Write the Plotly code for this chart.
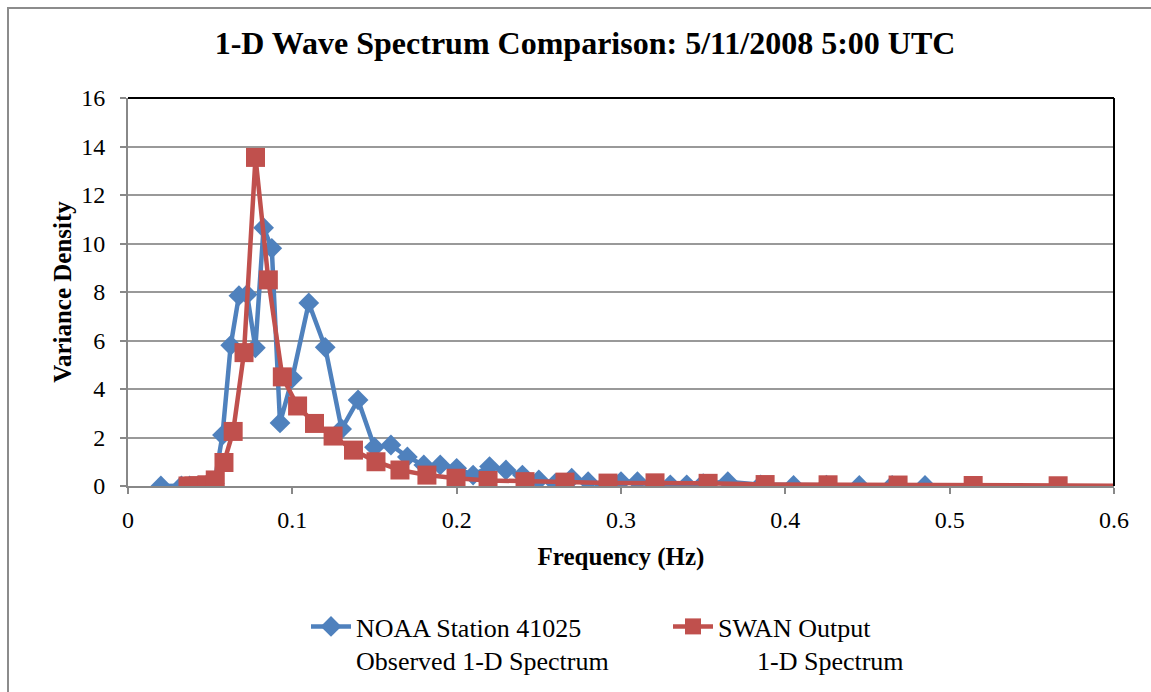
import plotly.graph_objects as go

# NOAA Station 41025 observed spectrum
noaa_freq = [0.02, 0.0325, 0.0375, 0.0425, 0.0475, 0.0525, 0.0575, 0.0625, 0.0675, 0.0725,
             0.0775, 0.0825, 0.0875, 0.0925, 0.1, 0.11, 0.12, 0.13, 0.14, 0.15,
             0.16, 0.17, 0.18, 0.19, 0.2, 0.21, 0.22, 0.23, 0.24, 0.25,
             0.26, 0.27, 0.28, 0.29, 0.3, 0.31, 0.32, 0.33, 0.34, 0.35,
             0.365, 0.385, 0.405, 0.425, 0.445, 0.465, 0.485]
noaa_density = [0.0, 0.0, 0.0, 0.0, 0.02, 0.1, 2.1, 5.8, 7.85, 7.9,
                5.7, 10.65, 9.8, 2.6, 4.45, 7.55, 5.72, 2.35, 3.55, 1.6,
                1.69, 1.2, 0.87, 0.87, 0.73, 0.45, 0.8, 0.66, 0.45, 0.25,
                0.11, 0.32, 0.18, 0.04, 0.18, 0.18, 0.05, 0.05, 0.05, 0.1,
                0.18, 0.05, 0.02, 0.03, 0.02, 0.02, 0.02]

# SWAN model output spectrum
swan_freq = [0.0365, 0.0401, 0.0437, 0.0481, 0.0531, 0.0584, 0.064, 0.0706, 0.0776, 0.0854,
             0.0939, 0.1032, 0.1135, 0.1248, 0.1372, 0.1509, 0.1655, 0.1819, 0.1996, 0.2191,
             0.2416, 0.2659, 0.2921, 0.3207, 0.353, 0.3877, 0.426, 0.4686, 0.5143, 0.566, 0.6226]
swan_density = [0.0, 0.0, 0.01, 0.05, 0.25, 0.97, 2.25, 5.5, 13.55, 8.5,
                4.5, 3.3, 2.58, 2.06, 1.48, 1.0, 0.66, 0.45, 0.32, 0.23,
                0.18, 0.16, 0.12, 0.13, 0.11, 0.06, 0.05, 0.04, 0.02, 0.01, 0.01]

x_ticks = [0, 0.1, 0.2, 0.3, 0.4, 0.5, 0.6]
y_ticks = [0, 2, 4, 6, 8, 10, 12, 14, 16]

BLUE = "#4F81BD"
RED = "#C0504D"
GRID = "#888888"
FONT = "Liberation Serif"
NB = "\u00a0"

fig = go.Figure()
fig.add_trace(go.Scatter(
    x=noaa_freq, y=noaa_density, mode="lines+markers",
    name="NOAA Station 41025<br>Observed 1-D Spectrum",
    line=dict(color=BLUE, width=4.5),
    marker=dict(symbol="diamond", size=16, color=BLUE),
))
fig.add_trace(go.Scatter(
    x=swan_freq, y=swan_density, mode="lines+markers",
    name="SWAN Output<br>" + NB * 6 + "1-D Spectrum",
    line=dict(color=RED, width=4.5),
    marker=dict(symbol="square", size=19, color=RED),
))

L, R, T, B = 128, 37, 98, 206
W, H = 1151, 692
pw, ph = W - L - R, H - T - B

def px(xp):
    return (xp - L) / pw

def py(yp):
    return (H - B - yp) / ph

fig.update_layout(
    width=W, height=H,
    margin=dict(l=L, r=R, t=T, b=B, autoexpand=False),
    paper_bgcolor="white", plot_bgcolor="white",
    font=dict(family=FONT, size=24, color="black"),
    title=dict(text="<b>1-D Wave Spectrum Comparison: 5/11/2008 5:00 UTC</b>",
               x=px(585), xref="paper", xanchor="center",
               y=1 - 43 / H, yanchor="middle",
               font=dict(family=FONT, size=32, color="black")),
    showlegend=True,
    legend=dict(orientation="h", x=px(306), xanchor="left", y=py(603), yanchor="top",
                font=dict(family=FONT, size=26, color="black"),
                itemwidth=40, valign="top", entrywidth=307, entrywidthmode="pixels",
                bgcolor="rgba(0,0,0,0)", tracegroupgap=0),
    xaxis=dict(range=[0, 0.6], tickvals=x_ticks, ticktext=[str(v) for v in x_ticks],
               showgrid=False, zeroline=False, automargin=False,
               showline=True, linecolor=GRID, linewidth=2,
               ticks="outside", ticklen=6, tickcolor=GRID, tickwidth=2,
               ticklabelstandoff=5,
               tickfont=dict(family=FONT, size=24, color="black"),
               title=dict(text="<b>Frequency (Hz)</b>", standoff=16,
                          font=dict(family=FONT, size=25, color="black"))),
    yaxis=dict(range=[0, 16], tickvals=y_ticks, automargin=False,
               showgrid=True, gridcolor="#999999", gridwidth=1.5, zeroline=False,
               showline=True, linecolor=GRID, linewidth=2,
               ticks="outside", ticklen=6, tickcolor=GRID, tickwidth=2,
               ticklabelstandoff=10,
               tickfont=dict(family=FONT, size=24, color="black"),
               title=dict(text="<b>Variance Density</b>", standoff=2,
                          font=dict(family=FONT, size=25, color="black"))),
    shapes=[
        # outer chart border
        dict(type="rect", xref="paper", yref="paper",
             x0=px(8), x1=px(1170), y0=py(710), y1=py(8),
             line=dict(color="#8c8c8c", width=2), layer="below"),
        # plot area border (top and right)
        dict(type="line", xref="paper", yref="paper", x0=0, x1=1, y0=1, y1=1,
             line=dict(color="black", width=2)),
        dict(type="line", xref="paper", yref="paper", x0=1, x1=1, y0=0, y1=1,
             line=dict(color="black", width=2)),
    ],
)

fig.write_html("out.html")
